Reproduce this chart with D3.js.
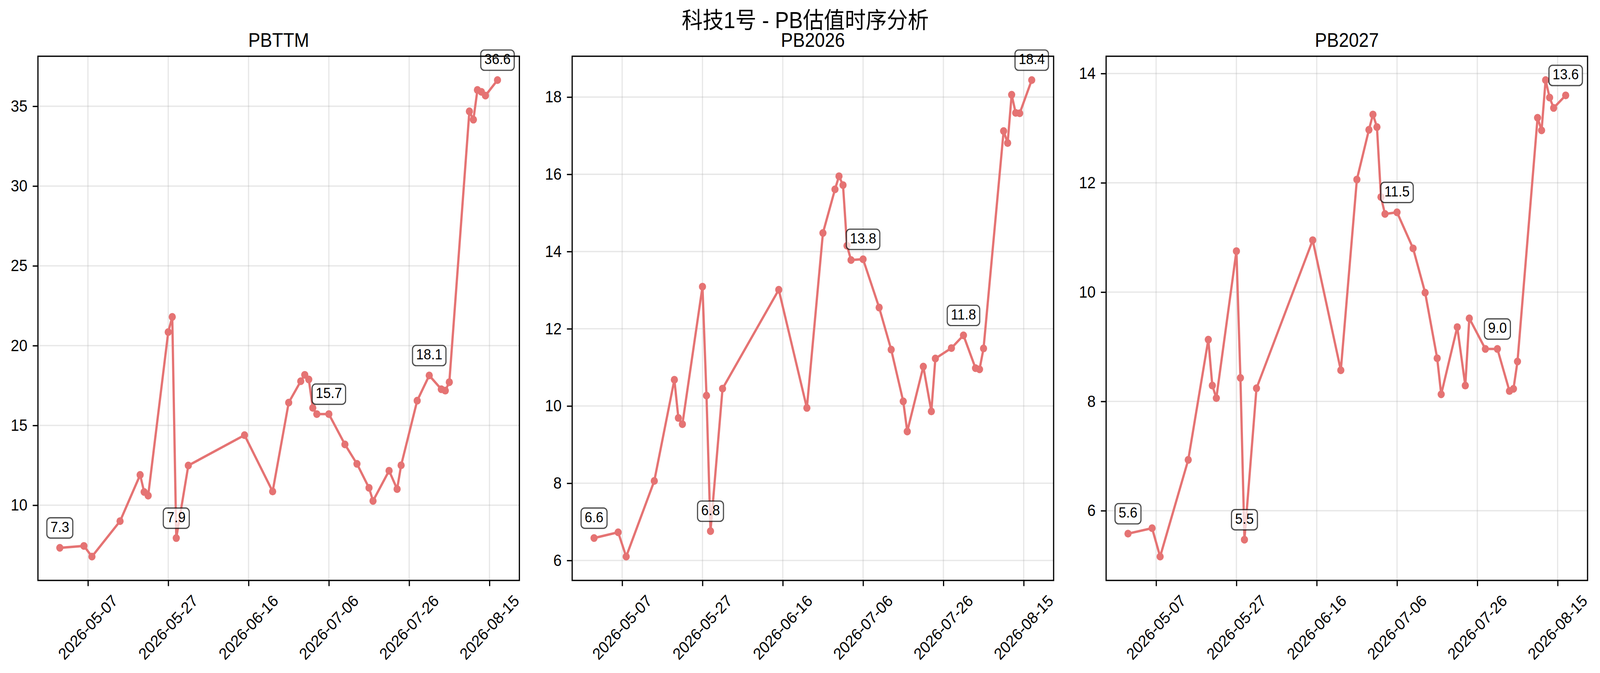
<!DOCTYPE html>
<html>
<head>
<meta charset="utf-8">
<script src="https://cdn.jsdelivr.net/npm/d3@7"></script>
<style>
  html, body { margin: 0; padding: 0; background: #fff; overflow: hidden; }
  #chart svg { display: block; width: 100vw; height: 100vh; }
  text { font-family: "Liberation Sans", Arial, "Noto Sans CJK SC", sans-serif; }
</style>
</head>
<body>
<div id="chart"></div>
<script>
// data
const dates = ["2026-04-30","2026-05-06","2026-05-08","2026-05-15","2026-05-20","2026-05-21","2026-05-22",
  "2026-05-27","2026-05-28","2026-05-29","2026-06-01","2026-06-15","2026-06-22","2026-06-26","2026-06-29",
  "2026-06-30","2026-07-01","2026-07-02","2026-07-03","2026-07-06","2026-07-10","2026-07-13","2026-07-16",
  "2026-07-17","2026-07-21","2026-07-23","2026-07-24","2026-07-28","2026-07-31","2026-08-03","2026-08-04",
  "2026-08-05","2026-08-10","2026-08-11","2026-08-12","2026-08-13","2026-08-14","2026-08-17"];

const pbttm = [7.33, 7.45, 6.78, 9.0, 11.9, 10.83, 10.6, 20.85, 21.8, 7.94, 12.49, 14.39, 10.86, 16.43, 17.77,
  18.17, 17.88, 16.1, 15.71, 15.71, 13.81, 12.59, 11.09, 10.27, 12.16, 11.01, 12.5, 16.55, 18.13, 17.27, 17.18,
  17.71, 34.68, 34.16, 36.02, 35.9, 35.67, 36.64];

const pb2026 = [6.58, 6.73, 6.10, 8.06, 10.68, 9.69, 9.53, 13.09, 10.27, 6.76, 10.45, 13.01, 9.95, 14.48, 15.61,
  15.95, 15.72, 14.15, 13.78, 13.80, 12.55, 11.46, 10.12, 9.34, 11.02, 9.86, 11.23, 11.5, 11.83, 10.98, 10.95,
  11.49, 17.12, 16.81, 18.06, 17.59, 17.58, 18.44];

const pb2027 = [5.58, 5.68, 5.16, 6.93, 9.13, 8.29, 8.06, 10.75, 8.43, 5.47, 8.24, 10.95, 8.57, 12.06, 12.97,
  13.25, 13.02, 11.74, 11.43, 11.46, 10.80, 9.99, 8.79, 8.13, 9.36, 8.29, 9.52, 8.96, 8.96, 8.19, 8.23,
  8.73, 13.19, 12.96, 13.88, 13.56, 13.37, 13.60];

const labelIdx = [0, 9, 19, 28, 37];
const panelTitles = ["PBTTM", "PB2026", "PB2027"];
const xTickLabels = ["2026-05-07", "2026-05-27", "2026-06-16", "2026-07-06", "2026-07-26", "2026-08-15"];
const yTicks1 = [10, 15, 20, 25, 30, 35];
const yTicks2 = [6, 8, 10, 12, 14, 16, 18];
const yTicks3 = [6, 8, 10, 12, 14];
const mainTitle = "科技1号 - PB估值时序分析";

const WIDTH = 4449, HEIGHT = 1723;
const panelLeft = [105.5, 1591, 3075.7];
const panel_width = 1338.7;
const plotTop = 144, plotBottom = 1486;
const lineColor = "#E57373";
const PT = 300 / 72;

let parse = d3.utcParse("%Y-%m-%d");
let fmt = d3.utcFormat("%Y-%m-%d");

// drawn in figure pixels; the browser caps the window width, so stretch to fill it
let svg = d3.select("#chart")
  .append("svg")
  .attr("viewBox", `0 0 ${WIDTH} ${HEIGHT}`)
  .attr("preserveAspectRatio", "none");

svg.append("rect").attr("width", WIDTH).attr("height", HEIGHT).attr("fill", "white");

svg.append("text")
  .attr("x", 2239)
  .attr("y", 72)
  .style("text-anchor", "middle")
  .style("font-size", 14 * PT + "px")
  .text(mainTitle);

createPanel(0, pbttm, yTicks1);
createPanel(1, pb2026, yTicks2);
createPanel(2, pb2027, yTicks3);

function padded(ext) {
  let span = ext[1] - ext[0];
  return [ext[0] - span * 0.05, ext[1] + span * 0.05];
}

function createPanel(i, values, yTicks) {
  let data = dates.map(function(d, k) { return {date: parse(d), value: values[k]}; });
  let h = plotBottom - plotTop;

  let g = svg.append("g")
    .attr("transform", `translate(${panelLeft[i]},${plotTop})`);

  let xExt = d3.extent(data, function(d) { return d.date; });
  let xSpan = xExt[1] - xExt[0];
  let x = d3.scaleUtc()
    .domain([new Date(+xExt[0] - xSpan * 0.05), new Date(+xExt[1] + xSpan * 0.05)])
    .range([0, panel_width]);

  let y = d3.scaleLinear()
    .domain(padded(d3.extent(data, function(d) { return d.value; })))
    .range([h, 0]);

  let xTicks = xTickLabels.map(parse);

  // grid
  g.append("g").selectAll("line").data(xTicks).enter().append("line")
    .attr("x1", function(d) { return x(d); }).attr("x2", function(d) { return x(d); })
    .attr("y1", 0).attr("y2", h)
    .attr("stroke", "#b0b0b0").attr("stroke-opacity", 0.3).attr("stroke-width", 0.8 * PT);
  g.append("g").selectAll("line").data(yTicks).enter().append("line")
    .attr("y1", function(d) { return y(d); }).attr("y2", function(d) { return y(d); })
    .attr("x1", 0).attr("x2", panel_width)
    .attr("stroke", "#b0b0b0").attr("stroke-opacity", 0.3).attr("stroke-width", 0.8 * PT);

  // line + markers
  g.append("path")
    .datum(data)
    .attr("fill", "none")
    .attr("stroke", lineColor)
    .attr("stroke-width", 1.5 * PT)
    .attr("stroke-linejoin", "round")
    .attr("d", d3.line()
      .x(function(d) { return x(d.date); })
      .y(function(d) { return y(d.value); }));

  g.append("g").selectAll("circle").data(data).enter().append("circle")
    .attr("cx", function(d) { return x(d.date); })
    .attr("cy", function(d) { return y(d.value); })
    .attr("r", 10)
    .attr("fill", lineColor);

  // value labels
  let labels = g.append("g").selectAll("g")
    .data(labelIdx.map(function(k) { return data[k]; }))
    .enter().append("g")
    .attr("transform", function(d) { return `translate(${x(d.date)},${y(d.value) - 51})`; });

  labels.append("rect");
  labels.append("text")
    .attr("y", 10)
    .style("text-anchor", "middle")
    .style("font-size", 9 * PT + "px")
    .text(function(d) { return d.value.toFixed(1); });
  labels.each(function() {
    let t = d3.select(this).select("text").node();
    let w = t.getComputedTextLength() + 20;
    d3.select(this).select("rect")
      .attr("x", -w / 2).attr("y", -26)
      .attr("width", w).attr("height", 52)
      .attr("rx", 10)
      .attr("fill", "white").attr("fill-opacity", 0.7)
      .attr("stroke", "black").attr("stroke-opacity", 0.7)
      .attr("stroke-width", 3.2);
  });

  // axes
  let xAxis = g.append("g")
    .attr("transform", `translate(0,${h})`)
    .call(d3.axisBottom(x).tickValues(xTicks).tickFormat(fmt).tickSize(3.5 * PT).tickPadding(3.5 * PT));
  let yAxis = g.append("g")
    .call(d3.axisLeft(y).tickValues(yTicks).tickFormat(d3.format("d")).tickSize(3.5 * PT).tickPadding(3.5 * PT));

  [xAxis, yAxis].forEach(function(a) {
    a.select(".domain").remove();
    a.attr("font-family", null).attr("font-size", null);
    a.selectAll("line").attr("stroke", "black").attr("stroke-width", 0.8 * PT);
    a.selectAll("text").style("font-size", 10 * PT + "px").attr("fill", "black");
  });

  // rotated date labels, centred under the tick like matplotlib
  xAxis.selectAll("text").each(function() {
    let w = this.getComputedTextLength();
    let fh = 10 * PT * 1.117;
    let half = (w + fh) * Math.SQRT1_2 / 2;
    d3.select(this)
      .attr("y", null).attr("dy", "0.32em")
      .attr("text-anchor", "middle")
      .attr("transform", `translate(0,${29 + half}) rotate(-45)`);
  });

  // frame
  g.append("rect")
    .attr("width", panel_width).attr("height", h)
    .attr("fill", "none").attr("stroke", "black").attr("stroke-width", 0.8 * PT);

  g.append("text")
    .attr("x", panel_width / 2)
    .attr("y", -24)
    .style("text-anchor", "middle")
    .style("font-size", 12 * PT + "px")
    .text(panelTitles[i]);
}
</script>
</body>
</html>
